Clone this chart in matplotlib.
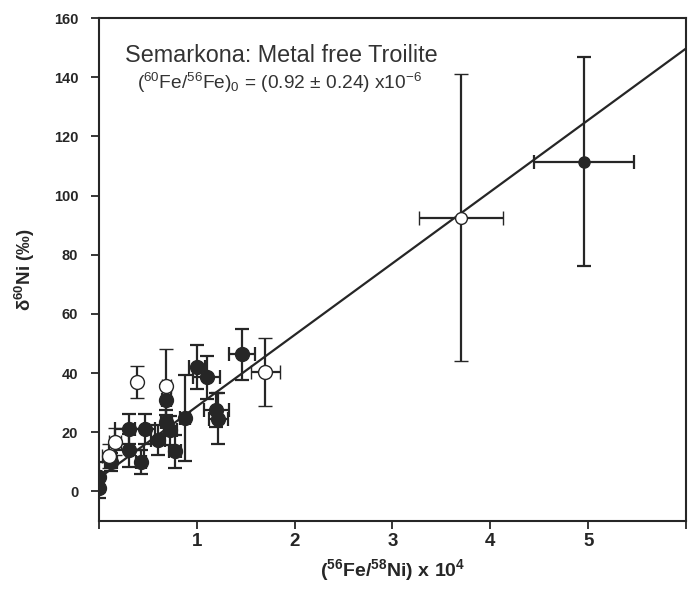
import numpy as np
import matplotlib
matplotlib.use('Agg')
import matplotlib.pyplot as plt

plt.rcParams['font.family'] = ['Liberation Sans', 'DejaVu Sans']
plt.rcParams['mathtext.fontset'] = 'custom'
plt.rcParams['mathtext.rm'] = 'Liberation Sans'
plt.rcParams['mathtext.it'] = 'Liberation Sans:italic'
plt.rcParams['mathtext.bf'] = 'Liberation Sans:bold'

# filled symbols
fx = [0.00, 0.00, 0.12, 0.31, 0.31, 0.43, 0.47, 0.60, 0.69, 0.69, 0.73, 0.78, 0.88,
      1.00, 1.10, 1.20, 1.22, 1.46, 4.96]
fy = [1.2, 4.8, 10.0, 13.9, 21.0, 10.0, 21.0, 17.3, 30.8, 23.4, 20.6, 13.5, 24.8,
      42.0, 38.5, 27.6, 24.6, 46.3, 111.5]
fxerr = [0.02, 0.02, 0.06, 0.15, 0.15, 0.05, 0.10, 0.07, 0.05, 0.06, 0.07, 0.06, 0.05,
         0.08, 0.14, 0.13, 0.10, 0.13, 0.51]
fyerr = [3.5, 5.0, 3.0, 5.5, 5.0, 4.0, 5.0, 5.0, 5.0, 4.0, 5.0, 5.5, 14.5,
         7.5, 7.3, 5.7, 8.5, 8.5, 35.3]

# open symbols
ox = [0.10, 0.16, 0.39, 0.69, 1.70, 3.70]
oy = [12.0, 16.8, 37.0, 35.5, 40.5, 92.5]
oxerr = [0.07, 0.06, 0.0, 0.05, 0.15, 0.43]
oyerr = [4.0, 4.5, 5.5, 12.5, 11.5, 48.5]

# isochron fit
fit_x = [0.03, 6.0]
slope, intercept = 24.2, 4.5

fig = plt.figure(figsize=(7, 5.95), dpi=100)
ax = fig.add_axes([0.1414, 0.1244, 0.8386, 0.8453])

fit_y = [intercept + slope * v for v in fit_x]
ax.plot(fit_x, fit_y, color='#262626', lw=1.6, zorder=2)

ek = dict(ecolor='#262626', elinewidth=1.6, capsize=5, capthick=1.6, fmt='o', mec='#262626')
fx = np.array(fx); fy = np.array(fy); fxerr = np.array(fxerr); fyerr = np.array(fyerr)
ox = np.array(ox); oy = np.array(oy); oxerr = np.array(oxerr); oyerr = np.array(oyerr)
near_f = fx < 3
near_o = ox < 3
ax.errorbar(fx[near_f], fy[near_f], xerr=fxerr[near_f], yerr=fyerr[near_f], ms=10,
            mfc='#262626', zorder=3, **ek)
ax.errorbar(fx[~near_f], fy[~near_f], xerr=fxerr[~near_f], yerr=fyerr[~near_f], ms=8,
            mfc='#262626', zorder=3, **ek)
ax.errorbar(ox[near_o], oy[near_o], xerr=oxerr[near_o], yerr=oyerr[near_o], ms=10,
            mfc='white', mew=1.0, zorder=4, **ek)
ax.errorbar(ox[~near_o], oy[~near_o], xerr=oxerr[~near_o], yerr=oyerr[~near_o], ms=8.5,
            mfc='white', mew=1.0, zorder=4, **ek)

ax.set_xlim(0, 6.0)
ax.set_ylim(-10, 160)
ax.set_xticks(range(0, 7))
ax.set_xticklabels(['', '1', '2', '3', '4', '5', ''], fontsize=13.5, fontweight='bold')
ax.set_yticks(range(0, 161, 20))
ax.set_yticklabels([str(v) for v in range(0, 161, 20)], fontsize=10.5, fontweight='bold')
ax.tick_params(direction='out', length=6, width=1.3, colors='#262626')
ax.tick_params(axis='y', pad=9)
ax.tick_params(axis='x', pad=3)

for s in ax.spines.values():
    s.set_linewidth(1.5)
    s.set_color('#262626')

ax.set_xlabel(r'($^{\mathbf{56}}$Fe/$^{\mathbf{58}}$Ni) x 10$^{\mathbf{4}}$', fontsize=14,
              fontweight='bold', labelpad=5, color='#262626')
ax.set_ylabel(r'δ$^{\mathbf{60}}$Ni (‰)', fontsize=13.5, fontweight='bold',
              labelpad=12, color='#262626')

ax.text(0.044, 0.913, 'Semarkona: Metal free Troilite', transform=ax.transAxes,
        fontsize=16.8, color='#333333', va='baseline')
ax.text(0.065, 0.858, r'($^{60}$Fe/$^{56}$Fe)$_0$ = (0.92 ± 0.24) x10$^{-6}$',
        transform=ax.transAxes, fontsize=13.8, color='#333333', va='baseline')

fig.savefig('out.png', dpi=100)
